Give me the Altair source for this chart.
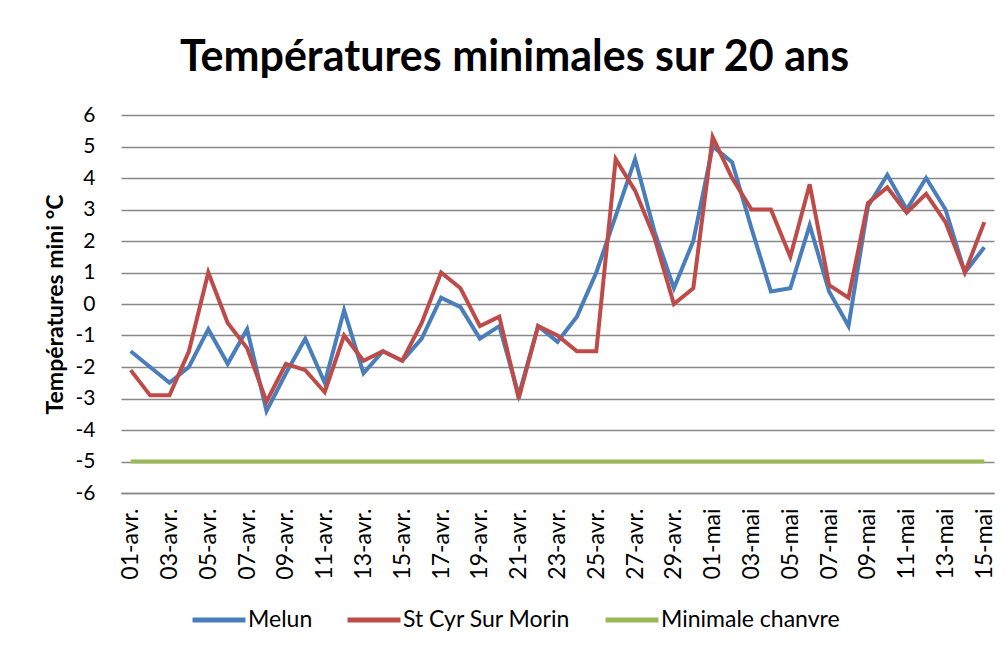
import altair as alt
import pandas as pd

dates = [
    "01-avr.", "02-avr.", "03-avr.", "04-avr.", "05-avr.", "06-avr.", "07-avr.", "08-avr.", "09-avr.", "10-avr.",
    "11-avr.", "12-avr.", "13-avr.", "14-avr.", "15-avr.", "16-avr.", "17-avr.", "18-avr.", "19-avr.", "20-avr.",
    "21-avr.", "22-avr.", "23-avr.", "24-avr.", "25-avr.", "26-avr.", "27-avr.", "28-avr.", "29-avr.", "30-avr.",
    "01-mai", "02-mai", "03-mai", "04-mai", "05-mai", "06-mai", "07-mai", "08-mai", "09-mai", "10-mai",
    "11-mai", "12-mai", "13-mai", "14-mai", "15-mai",
]
tick_labels = dates[::2]

melun = [-1.5, -2.0, -2.5, -2.0, -0.8, -1.9, -0.8, -3.4, -2.2, -1.1,
         -2.5, -0.2, -2.2, -1.5, -1.8, -1.1, 0.2, -0.1, -1.1, -0.7,
         -2.9, -0.7, -1.2, -0.4, 1.0, 2.8, 4.6, 2.3, 0.5, 2.0,
         5.0, 4.5, 2.4, 0.4, 0.5, 2.5, 0.4, -0.7, 3.1, 4.1,
         3.0, 4.0, 3.0, 1.0, 1.8]
st_cyr = [-2.1, -2.9, -2.9, -1.5, 1.0, -0.6, -1.4, -3.1, -1.9, -2.1,
          -2.8, -1.0, -1.8, -1.5, -1.8, -0.6, 1.0, 0.5, -0.7, -0.4,
          -3.0, -0.7, -1.0, -1.5, -1.5, 4.6, 3.6, 2.1, 0.0, 0.5,
          5.3, 4.0, 3.0, 3.0, 1.5, 3.8, 0.6, 0.2, 3.2, 3.7,
          2.9, 3.5, 2.6, 1.0, 2.6]
minimale_chanvre = -5

series = ["Melun", "St Cyr Sur Morin", "Minimale chanvre"]
colors = ["#4A7EBB", "#BE4B48", "#98B954"]
y_ticks = [-6, -5, -4, -3, -2, -1, 0, 1, 2, 3, 4, 5, 6]

rows = []
for i, d in enumerate(dates):
    rows.append({"date": d, "serie": series[0], "value": melun[i], "k": 0})
    rows.append({"date": d, "serie": series[1], "value": st_cyr[i], "k": 1})
    rows.append({"date": d, "serie": series[2], "value": minimale_chanvre, "k": 2})
df = pd.DataFrame(rows)

FONT = "Lato"

chart = alt.Chart(df).mark_line(strokeWidth=4).encode(
    x=alt.X("date:N", sort=dates,
            scale=alt.Scale(type="point", padding=0.5),
            axis=alt.Axis(values=tick_labels, labelAngle=-90, ticks=False, domain=True,
                          domainColor="#888888", domainWidth=1.5, grid=False, title=None,
                          labelFont=FONT, labelFontSize=23, labelColor="black", labelPadding=15)),
    y=alt.Y("value:Q", scale=alt.Scale(domain=[-6, 6], nice=False, zero=False),
            axis=alt.Axis(values=y_ticks, grid=True, gridColor="#888888", gridWidth=1.5,
                          domain=False, ticks=False, labelFont=FONT, labelFontSize=21,
                          labelColor="black", labelPadding=26,
                          labelExpr="datum.value < 0 ? '-' + abs(datum.value) : '' + datum.value",
                          title="Températures mini °C", titleFont=FONT, titleFontSize=23,
                          titleFontWeight="bold", titleColor="black",
                          titleX=-66, titleY=189, titleBaseline="middle", titleAlign="center",
                          titleAngle=-90)),
    color=alt.Color("serie:N", scale=alt.Scale(domain=series, range=colors),
                    legend=alt.Legend(orient="none", legendX=69, legendY=476, direction="horizontal",
                                      columns=3, title=None, symbolType="stroke", symbolSize=2800,
                                      symbolStrokeWidth=5, labelFont=FONT, labelFontSize=23,
                                      labelColor="black", columnPadding=24, labelOffset=0,
                                      labelLimit=0)),
    detail="k:O",
).properties(
    width=873,
    height=378,
    autosize="none",
    padding={"left": 113, "top": 107, "right": 6, "bottom": 149},
    title=alt.TitleParams("Températures minimales sur 20 ans", font=FONT, fontSize=43,
                          fontWeight="bold", color="black", anchor="middle", dx=-43, offset=24),
).configure_view(stroke=None)

chart.save("out.html", embed_options={"renderer": "svg", "actions": False})
